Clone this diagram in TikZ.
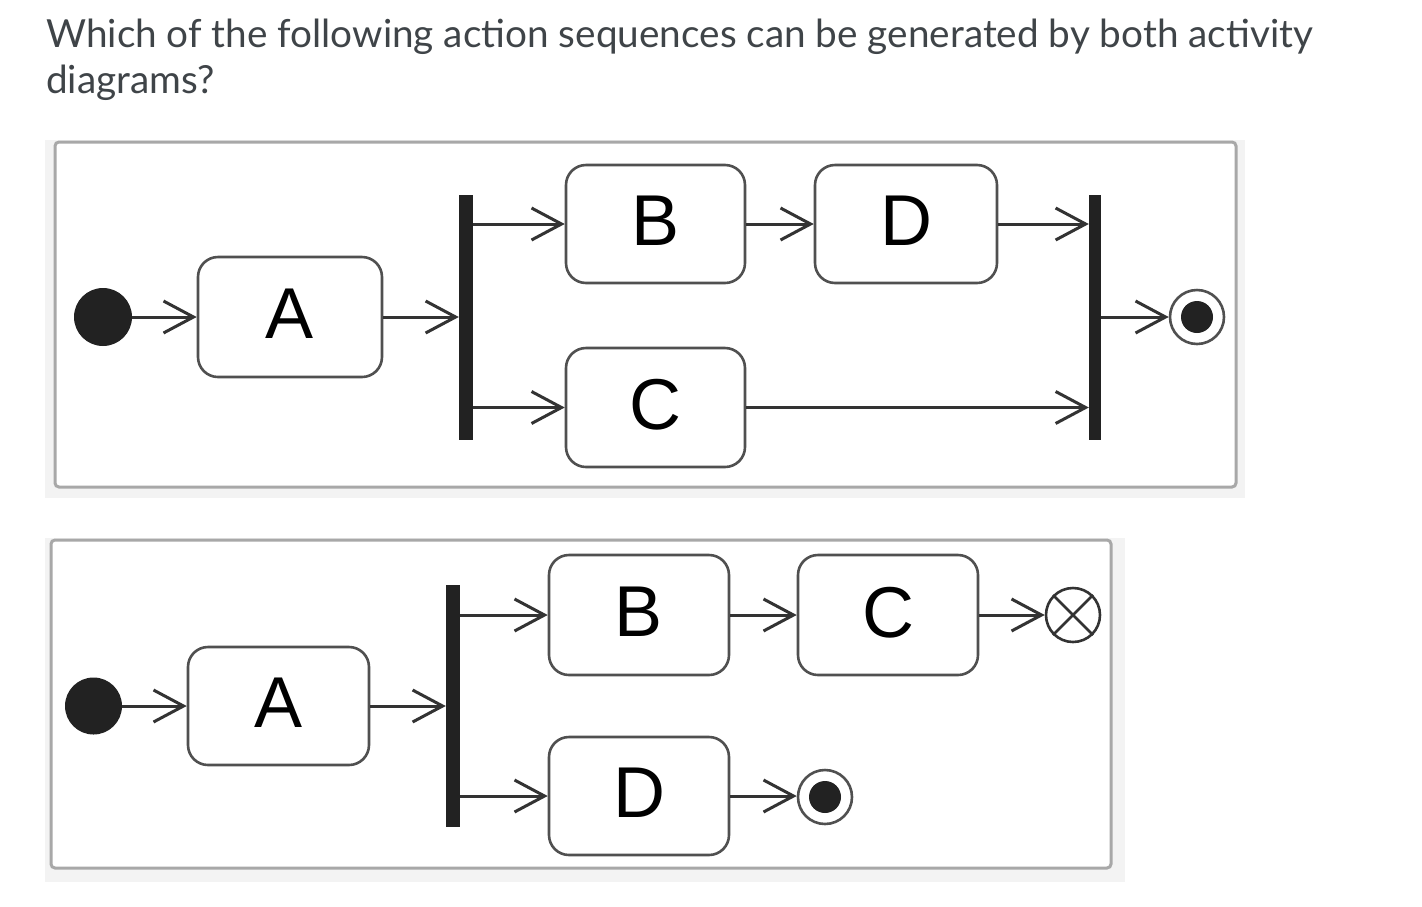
\documentclass[tikz,border=0pt]{standalone}
\usepackage{fontspec}
\newfontfamily\latofont{Lato}
\newfontfamily\arialfont{Liberation Sans}
\usetikzlibrary{arrows.meta,calc}
\definecolor{titlec}{HTML}{3F4448}
\definecolor{linec}{HTML}{333333}
\definecolor{boxc}{HTML}{505050}
\definecolor{framec}{HTML}{A8A8A8}
\definecolor{bgc}{HTML}{F3F3F3}
\definecolor{solidc}{HTML}{222222}
\newcommand{\actlabel}[1]{\raisebox{6pt}{#1}}
\tikzset{
  action/.style={draw=boxc, line width=2.6pt, rounded corners=20pt, fill=white,
    inner sep=0pt, font=\arialfont\fontsize{72}{80}\selectfont, text=black},
  initnode/.style={circle, fill=solidc, inner sep=0pt, minimum size=58pt},
  barnode/.style={rectangle, fill=solidc, inner sep=0pt},
  finalnode/.style={circle, draw=boxc, line width=2.6pt, fill=white, inner sep=0pt, minimum size=54pt},
  finaldot/.style={circle, fill=solidc, inner sep=0pt, minimum size=32pt},
  flow/.style={draw=linec, line width=3pt, -{Straight Barb[length=30pt,width=32pt]}},
  frame/.style={draw=framec, line width=3pt, fill=white, rounded corners=4pt},
  titletext/.style={anchor=base west, inner sep=0pt, text=titlec, font=\latofont\fontsize{38.7}{46}\selectfont}
}
\begin{document}
\begin{tikzpicture}[x=1pt,y=-1pt]
\useasboundingbox (0,0) rectangle (1422,906);
\fill[white] (0,0) rectangle (1422,906);
% title
\node[titletext] (t1) at (46,47) {Which of the following action sequences can be generated by both activity};
\node[titletext] (t2) at (46,93) {diagrams?};

% ---------- diagram 1 ----------
\fill[bgc] (45,140) rectangle (1245,498);
\draw[frame] (55,142) rectangle (1236,487);
\node[initnode] (i1) at (103,317) {};
\node[action, minimum width=184pt, minimum height=120pt] (a1) at (290,317) {\actlabel{A}};
\node[barnode, minimum width=14pt, minimum height=245pt] (f1) at (466,317.5) {};
\node[action, minimum width=179pt, minimum height=118pt] (b1) at (655.5,224) {\actlabel{B}};
\node[action, minimum width=182pt, minimum height=118pt] (d1) at (906,224) {\actlabel{D}};
\node[action, minimum width=179pt, minimum height=119pt] (c1) at (655.5,407.5) {\actlabel{C}};
\node[barnode, minimum width=12pt, minimum height=245pt] (j1) at (1095,317.5) {};
\node[finalnode] (e1) at (1197,317) {};
\node[finaldot] (e1dot) at (e1) {};
\draw[flow] (i1) -- (a1);
\draw[flow] (a1.east) -- (a1.east -| f1.west);
\draw[flow] (f1.east |- b1.west) -- (b1.west);
\draw[flow] (f1.east |- c1.west) -- (c1.west);
\draw[flow] (b1) -- (d1);
\draw[flow] (d1.east) -- (d1.east -| j1.west);
\draw[flow] (c1.east) -- (c1.east -| j1.west);
\draw[flow] (j1.east |- e1.west) -- (e1.west);

% ---------- diagram 2 ----------
\fill[bgc] (45,538) rectangle (1125,882);
\draw[frame] (51,540) rectangle (1111,868);
\node[initnode, minimum size=57pt] (i2) at (93.5,706) {};
\node[action, minimum width=181pt, minimum height=118pt] (a2) at (278.5,706) {\actlabel{A}};
\node[barnode, minimum width=14pt, minimum height=242pt] (f2) at (453,706) {};
\node[action, minimum width=180pt, minimum height=120pt] (b2) at (639,615) {\actlabel{B}};
\node[action, minimum width=180pt, minimum height=120pt] (c2) at (888,615) {\actlabel{C}};
\node[circle, draw=linec, line width=2.6pt, fill=white, inner sep=0pt, minimum size=54pt] (x2) at (1073,615) {};
\draw[linec, line width=2.6pt] (x2.45) -- (x2.225) (x2.135) -- (x2.315);
\node[action, minimum width=180pt, minimum height=118pt] (d2) at (639,796) {\actlabel{D}};
\node[finalnode] (e2) at (825,797) {};
\node[finaldot] (e2dot) at (e2) {};
\draw[flow] (i2) -- (a2);
\draw[flow] (a2.east) -- (a2.east -| f2.west);
\draw[flow] (f2.east |- b2.west) -- (b2.west);
\draw[flow] (f2.east |- d2.west) -- (d2.west);
\draw[flow] (b2) -- (c2);
\draw[flow] (c2) -- (x2);
\draw[flow] (d2.east) -- (d2.east -| e2.west);
\end{tikzpicture}
\end{document}
